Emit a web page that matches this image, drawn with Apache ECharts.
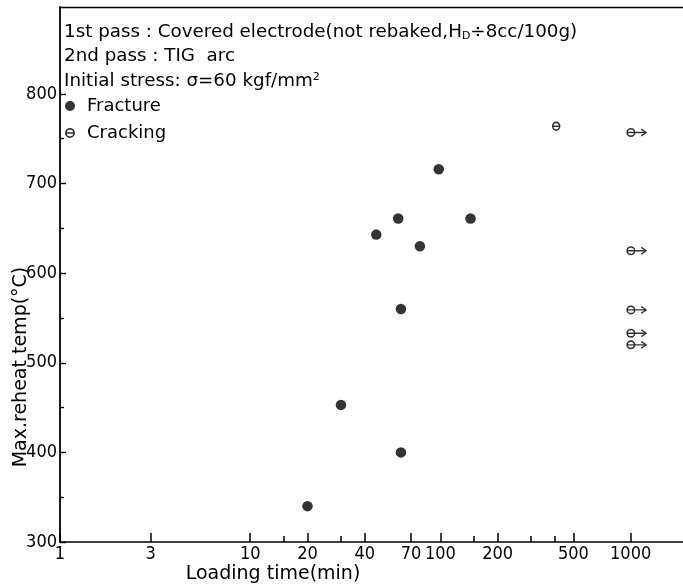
<!DOCTYPE html>
<html>
<head>
<meta charset="utf-8">
<script src="https://cdn.jsdelivr.net/npm/echarts@6/dist/echarts.min.js"></script>
<style>
html,body{margin:0;padding:0;background:#fff;}
#c{width:683px;height:588px;}
</style>
</head>
<body>
<div id="c"></div>
<script>
// ---- data ----
const fractureTime = [20, 30, 46, 60, 62, 62, 78, 98, 144];
const fractureTemp = [340, 453, 643, 661, 400, 560, 630, 716, 661];
const crackTime = [406];
const crackTemp = [764];
const runoutTime = [1000, 1000, 1000, 1000, 1000];
const runoutTemp = [757, 625, 559, 533, 520];

const xMajorTicks = [1, 3, 10, 20, 40, 70, 100, 200, 500, 1000];
const xMinorTicks = [15, 30, 150, 300, 400];
const yMajorTicks = [300, 400, 500, 600, 700, 800];
const yMinorTicks = [350, 450, 550, 650, 750];

const noteLines = [
  '1st pass : Covered electrode(not rebaked,H{sub|D}÷8cc/100g)',
  '2nd pass : TIG  arc',
  'Initial stress: σ=60 kgf/mm{sup|2}'
];
const xName = 'Loading time(min)';
const yName = 'Max.reheat temp(°C)';

// ---- styling ----
const FONT = "'DejaVu Sans', sans-serif";
const NUMFONT = "'Liberation Sans Narrow', 'DejaVu Sans Condensed', 'Liberation Sans', sans-serif";
const INK = '#000';
const XMIN = 1, XMAX = 1885, YMIN = 300, YMAX = 897;

const thetaPath = 'path://M0,5A5,5 0 1,1 10,5A5,5 0 1,1 0,5Z' +
  'M1.8,5A3.2,3.2 0 1,0 8.2,5A3.2,3.2 0 1,0 1.8,5Z' +
  'M1.5,4.2L8.5,4.2L8.5,5.8L1.5,5.8Z';
const arrowPath = 'path://M0,5A5,5 0 1,1 10,5A5,5 0 1,1 0,5Z' +
  'M1.8,5A3.2,3.2 0 1,0 8.2,5A3.2,3.2 0 1,0 1.8,5Z' +
  'M1.5,4.2L21,4.2L21,5.8L1.5,5.8Z' +
  'M15.8,2.0L16.8,0.6L23,5L16.8,9.4L15.8,8.0L20.9,5Z';

const chart = echarts.init(document.getElementById('c'), null, {renderer: 'canvas'});

function pairs(xs, ys) { return xs.map((x, i) => [x, ys[i]]); }

const logAxisBase = {type: 'log', logBase: 10, min: XMIN, max: XMAX, splitLine: {show: false}, axisPointer: {show: false}};
const valAxisBase = {type: 'value', min: YMIN, max: YMAX, interval: 100, splitLine: {show: false}};
const numLabel = {color: INK, fontFamily: NUMFONT, fontSize: 18, formatter: v => String(v)};

chart.setOption({
  animation: false,
  backgroundColor: '#fff',
  grid: {left: 60, right: 0, top: 7, bottom: 46, containLabel: false},
  xAxis: [
    Object.assign({}, logAxisBase, {
      position: 'bottom',
      axisLine: {show: true, lineStyle: {color: INK, width: 1.6}},
      axisTick: {show: true, inside: true, length: 9, customValues: xMajorTicks, lineStyle: {color: INK, width: 1.5}},
      axisLabel: Object.assign({show: true, customValues: xMajorTicks, margin: 3}, numLabel)
    }),
    Object.assign({}, logAxisBase, {
      position: 'bottom',
      axisLine: {show: false},
      axisTick: {show: true, inside: true, length: 6, customValues: xMinorTicks, lineStyle: {color: INK, width: 1.5}},
      axisLabel: {show: false}
    }),
    Object.assign({}, logAxisBase, {
      position: 'top',
      axisLine: {show: true, lineStyle: {color: INK, width: 1.4}},
      axisTick: {show: false},
      axisLabel: {show: false}
    })
  ],
  yAxis: [
    Object.assign({}, valAxisBase, {
      position: 'left',
      axisLine: {show: true, lineStyle: {color: INK, width: 1.8}},
      axisTick: {show: true, inside: true, length: 6, customValues: yMajorTicks, lineStyle: {color: INK, width: 1.4}},
      axisLabel: Object.assign({show: true, customValues: yMajorTicks, margin: 3}, numLabel)
    }),
    Object.assign({}, valAxisBase, {
      position: 'left',
      axisLine: {show: false},
      axisTick: {show: true, inside: true, length: 4, customValues: yMinorTicks, lineStyle: {color: INK, width: 1.4}},
      axisLabel: {show: false}
    })
  ],
  legend: {
    left: 65, top: 97, orient: 'vertical', padding: 0,
    itemWidth: 10, itemHeight: 10, itemGap: 9,
    selectedMode: false,
    textStyle: {color: INK, fontFamily: FONT, fontSize: 18, padding: [0, 0, 0, 7]},
    data: [
      {name: 'Fracture', icon: 'circle', itemStyle: {color: INK}},
      {name: 'Cracking', icon: thetaPath, itemStyle: {color: INK}}
    ]
  },
  graphic: noteLines.map((t, i) => ({
    type: 'text', x: 64, y: 32 + i * 24.5, silent: true,
    style: {
      text: t, fill: INK, font: '18.3px ' + FONT,
      verticalAlign: 'middle', align: 'left',
      rich: {
        sub: {fontSize: 11, fontFamily: FONT, fill: INK, padding: [9, 0, 0, 0]},
        sup: {fontSize: 11, fontFamily: FONT, fill: INK, padding: [0, 0, 8, 0]}
      }
    }
  })).concat([
    {type: 'text', x: 273, y: 574, silent: true,
     style: {text: xName, fill: INK, font: '19px ' + FONT, align: 'center', verticalAlign: 'middle'}},
    {type: 'text', x: 21, y: 367, rotation: Math.PI / 2, silent: true,
     style: {text: yName, fill: INK, font: '19px ' + FONT, align: 'center', verticalAlign: 'middle'}}
  ]),
  series: [
    {
      name: 'Fracture', type: 'scatter', xAxisIndex: 0, yAxisIndex: 0,
      symbol: 'circle', symbolSize: 10.5,
      itemStyle: {color: INK},
      data: pairs(fractureTime, fractureTemp)
    },
    {
      name: 'Cracking', type: 'scatter', xAxisIndex: 0, yAxisIndex: 0,
      symbol: thetaPath, symbolSize: [8.5, 9.5],
      itemStyle: {color: INK},
      data: pairs(crackTime, crackTemp)
    },
    {
      name: 'Cracking', type: 'scatter', xAxisIndex: 0, yAxisIndex: 0,
      symbol: arrowPath, symbolSize: [21, 9], symbolOffset: [6.2, 0],
      itemStyle: {color: INK},
      data: pairs(runoutTime, runoutTemp)
    }
  ]
});
</script>
</body>
</html>
